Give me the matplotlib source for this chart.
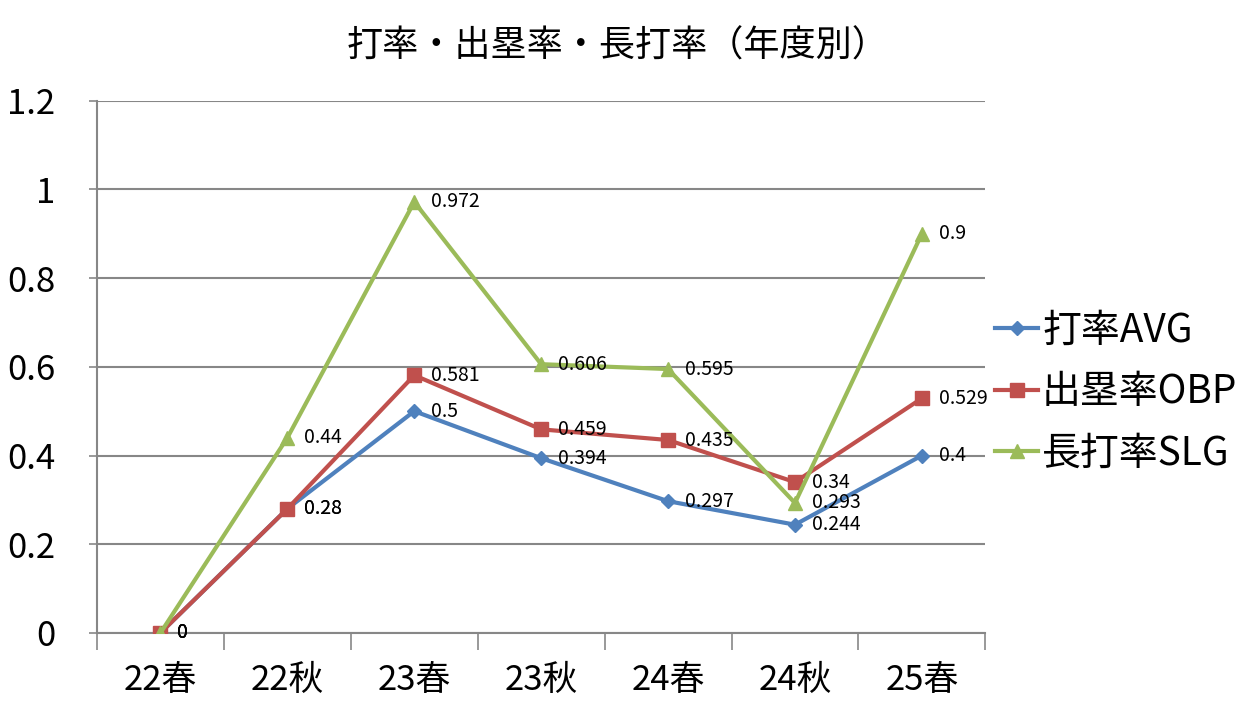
import matplotlib
matplotlib.use('Agg')
import matplotlib.pyplot as plt
from matplotlib.ticker import FixedLocator, NullFormatter

plt.rcParams['font.family'] = ['Noto Sans CJK JP', 'DejaVu Sans']

# data
seasons = ['22春', '22秋', '23春', '23秋', '24春', '24秋', '25春']
avg = [0, 0.28, 0.5, 0.394, 0.297, 0.244, 0.4]
obp = [0, 0.28, 0.581, 0.459, 0.435, 0.34, 0.529]
slg = [0, 0.44, 0.972, 0.606, 0.595, 0.293, 0.9]

series = [
    ('打率AVG', avg, '#4F81BD', 'D', 7),
    ('出塁率OBP', obp, '#C0504D', 's', 10),
    ('長打率SLG', slg, '#9BBB59', '^', 10),
]

fig = plt.figure(figsize=(12.6, 7.2), dpi=100)
ax = fig.add_axes([0.077, 0.121, 0.705, 0.739])

x = list(range(len(seasons)))
for name, vals, color, marker, ms in series:
    ax.plot(x, vals, color=color, lw=3, marker=marker, markersize=ms,
            label=name, zorder=3)
    for xi, v in zip(x, vals):
        ax.annotate(f'{v:g}', xy=(xi, v), xytext=(12, 0), textcoords='offset points',
                    va='center', ha='left', fontsize=14, color='black', zorder=4)

ax.set_xlim(-0.5, len(seasons) - 0.5)
ax.set_ylim(0, 1.2)
ax.set_yticks([0, 0.2, 0.4, 0.6, 0.8, 1.0, 1.2])
ax.set_yticklabels(['0', '0.2', '0.4', '0.6', '0.8', '1', '1.2'])
ax.yaxis.grid(True, color='#878787', lw=1.5)
ax.set_axisbelow(True)

# category labels centered, tick marks between categories
ax.xaxis.set_major_locator(FixedLocator([i - 0.5 for i in range(len(seasons) + 1)]))
ax.xaxis.set_major_formatter(NullFormatter())
ax.xaxis.set_minor_locator(FixedLocator(x))
ax.set_xticklabels(seasons, minor=True)
ax.tick_params(axis='x', which='major', length=12, width=1.2, color='#878787', direction='out')
ax.tick_params(axis='x', which='minor', length=0, labelsize=25, pad=22)
ax.tick_params(axis='y', length=6, width=1.2, color='#878787', labelsize=25, pad=24)

for s in ['top', 'right']:
    ax.spines[s].set_visible(False)
for s in ['left', 'bottom']:
    ax.spines[s].set_color('#878787')
    ax.spines[s].set_linewidth(1.5)

fig.suptitle('打率・出塁率・長打率（年度別）', x=0.49, y=0.96, fontsize=26)

fig.legend(*ax.get_legend_handles_labels(), loc='center left',
           bbox_to_anchor=(0.79, 0.455), frameon=False,
           fontsize=28, handlelength=1.1, handletextpad=0.1, labelspacing=0.55,
           borderaxespad=0.0, borderpad=0.0)

fig.savefig('out.png', dpi=100)
plt.close(fig)
